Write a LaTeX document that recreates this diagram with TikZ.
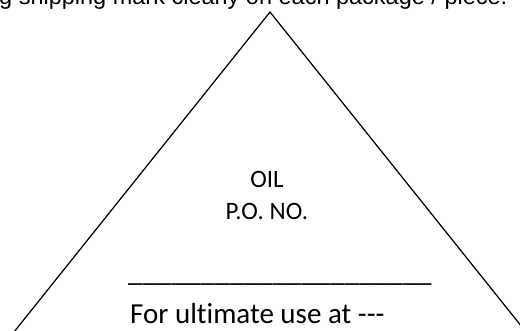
\documentclass[tikz,border=0pt]{standalone}
\usepackage{fontspec}
\setmainfont[Ligatures=NoCommon]{Carlito}
\newfontfamily\topfont{Liberation Sans}
\begin{document}
\begin{tikzpicture}[x=1pt,y=1pt,
  edge/.style={line width=1.2pt, line join=miter},
  lbl/.style={inner sep=0pt, font=\fontsize{25}{30}\selectfont},
  big/.style={inner sep=0pt, font=\fontsize{29}{34}\selectfont}]
\useasboundingbox (0,0) rectangle (520,-331);
\clip (0,0) rectangle (520,-331);
\node[anchor=base west, inner sep=0pt, font=\topfont\fontsize{23.5}{28}\selectfont] (hdr) at (-1,-4.5) {g shipping mark clearly on each package / piece.};
\coordinate (apex) at (270,-12);
\coordinate (bl) at (6,-342);
\coordinate (br) at (534,-342);
\draw[edge] (bl) -- (apex) -- (br);
\node[lbl, anchor=base] (oil) at (267,-188) {OIL};
\node[lbl, anchor=base] (po) at (267,-220) {P.O. NO.};
\node[big, anchor=base west] (rule) at (128,-282) {\_\_\_\_\_\_\_\_\_\_\_\_\_\_\_\_\_\_\_\_\_};
\node[big, anchor=base west] (use) at (130,-324) {For ultimate use at -{}-{}-};
\end{tikzpicture}
\end{document}
